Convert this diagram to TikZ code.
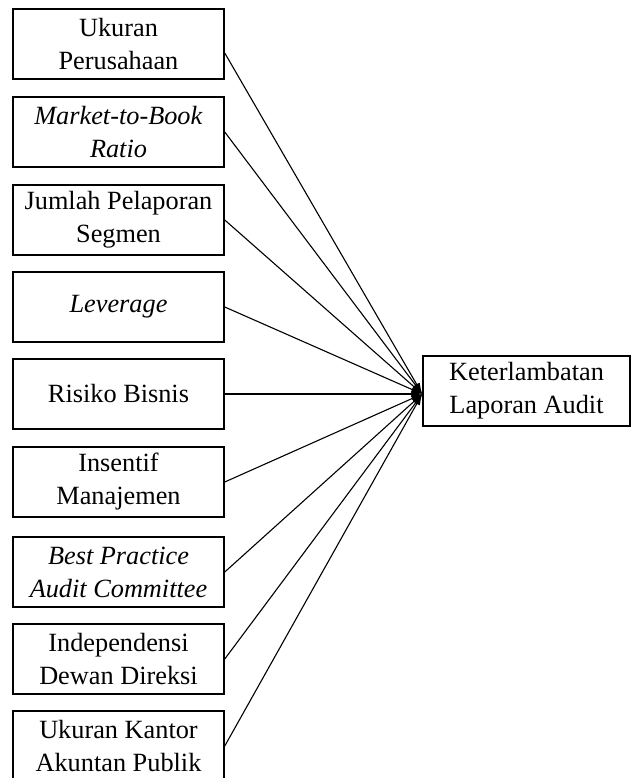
\documentclass[tikz,border=0pt]{standalone}
\usepackage{fontspec}
\setmainfont{Liberation Serif}
\usetikzlibrary{arrows.meta}

\begin{document}
\begin{tikzpicture}[x=1pt,y=-1pt,>={Latex[length=11pt,width=7pt]},
  kotak/.style={draw,line width=1.5pt,minimum width=211pt,minimum height=70pt,
    inner sep=0pt,align=center,font=\fontsize{26.3}{33}\selectfont},
  panah/.style={->,line width=1.1pt}]
  \useasboundingbox (0,0) rectangle (632,778);

  % Variabel independen
  \node[kotak] (ukuran)   at (118.5,44)  {Ukuran\\Perusahaan};
  \node[kotak] (mtb)      at (118.5,132) {\textit{Market-to-Book}\\\textit{Ratio}};
  \node[kotak] (segmen)   at (118.5,220) {Jumlah Pelaporan\\Segmen};
  \node[kotak] (leverage) at (118.5,307) {\textit{Leverage}};
  \node[kotak] (risiko)   at (118.5,394) {Risiko Bisnis};
  \node[kotak] (insentif) at (118.5,482) {Insentif\\Manajemen};
  \node[kotak] (bpac)     at (118.5,572) {\textit{Best Practice}\\\textit{Audit Committee}};
  \node[kotak] (dewan)    at (118.5,659) {Independensi\\Dewan Direksi};
  \node[kotak] (kap)      at (118.5,746) {Ukuran Kantor\\Akuntan Publik};

  % Variabel dependen
  \node[kotak,minimum width=207pt] (delay) at (526.5,391) {Keterlambatan\\Laporan Audit};
  \coordinate (ujung) at ([yshift=-3pt]delay.west);

  % Panah
  \draw[panah] ([yshift=-9pt]ukuran.east) -- (ujung);
  \draw[panah] (mtb.east)      -- (ujung);
  \draw[panah] (segmen.east)   -- (ujung);
  \draw[panah] (leverage.east) -- (ujung);
  \draw[panah] (risiko.east)   -- (ujung);
  \draw[panah] (insentif.east) -- (ujung);
  \draw[panah] (bpac.east)     -- (ujung);
  \draw[panah] (dewan.east)    -- (ujung);
  \draw[panah] (kap.east)      -- (ujung);
\end{tikzpicture}
\end{document}
